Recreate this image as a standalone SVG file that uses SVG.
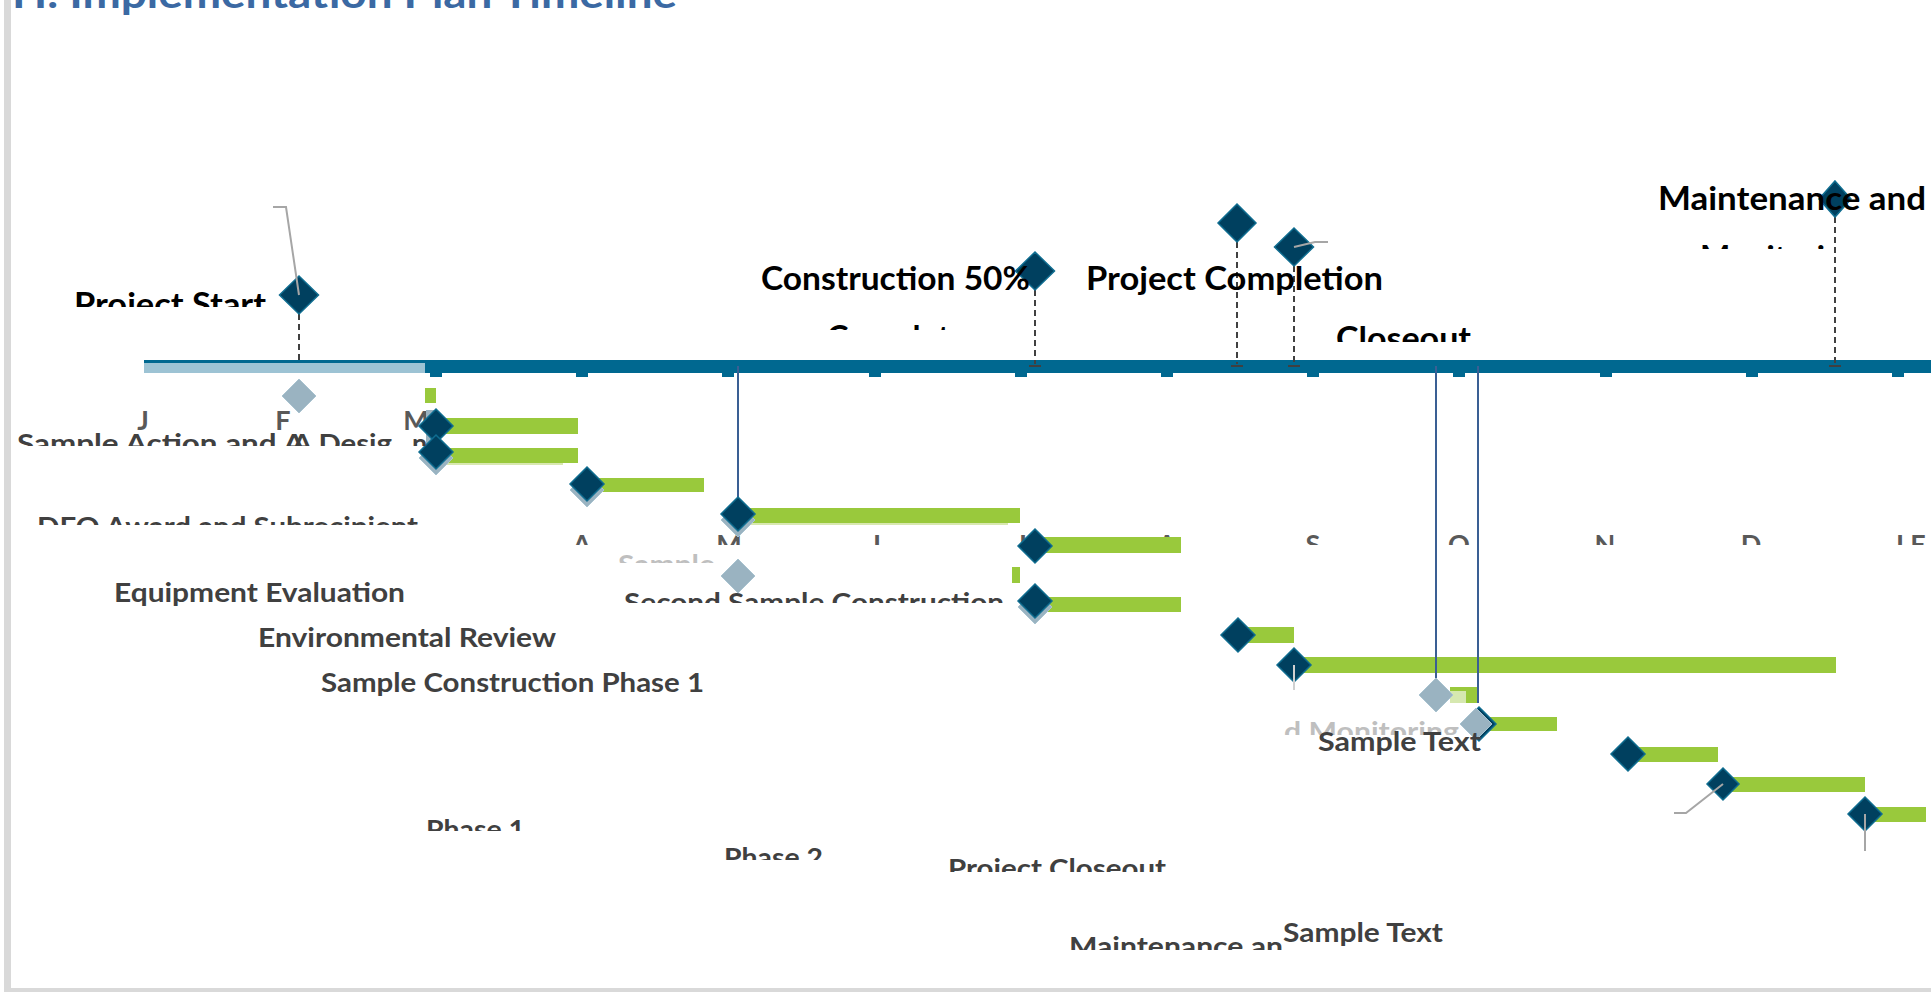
<svg xmlns="http://www.w3.org/2000/svg" width="1931" height="992" viewBox="0 0 1931 992">
<style>
text{font-family:Lato,"Open Sans","Liberation Sans",sans-serif;font-weight:bold}
.title{font-size:40px;fill:#3b69a3}
.ms{font-size:32px;fill:#000}
.lbl{font-size:27px;fill:#404040}
.ghost{font-size:27px;fill:#bfbfbf}
.mon{font-size:27px;fill:#595959}
.dk{fill:#00405f;stroke:#0f6d90;stroke-width:1.5}
.lt{fill:#9ab3c1;stroke:#a9c3d0;stroke-width:1}
.gr{fill:#99c93c}
.tick{fill:#006890}
.dash{stroke:#404040;stroke-width:2;stroke-dasharray:6 4;fill:none}
.foot{stroke:#404040;stroke-width:2;fill:none}
.vl{stroke:#3a5f94;stroke-width:2;fill:none}
.ld{stroke:#a6a6a6;stroke-width:2;fill:none}
</style>
<defs>
<clipPath id="cTop" clipPathUnits="userSpaceOnUse"><rect x="0" y="0" width="1931" height="992"/></clipPath>
<clipPath id="c307"><rect x="0" y="0" width="1931" height="307"/></clipPath>
<clipPath id="c330"><rect x="0" y="300" width="1931" height="30"/></clipPath>
<clipPath id="c342"><rect x="0" y="300" width="1931" height="42"/></clipPath>
<clipPath id="c249"><rect x="0" y="220" width="1931" height="29"/></clipPath>
<clipPath id="c446"><rect x="0" y="420" width="1931" height="26"/></clipPath>
<clipPath id="c525"><rect x="0" y="500" width="1931" height="25"/></clipPath>
<clipPath id="c545"><rect x="0" y="520" width="1931" height="25"/></clipPath>
<clipPath id="c563"><rect x="0" y="540" width="1931" height="23"/></clipPath>
<clipPath id="c603"><rect x="0" y="580" width="1931" height="23"/></clipPath>
<clipPath id="c735"><rect x="0" y="710" width="1931" height="25"/></clipPath>
<clipPath id="c831"><rect x="0" y="805" width="1931" height="26"/></clipPath>
<clipPath id="c860"><rect x="0" y="835" width="1931" height="25"/></clipPath>
<clipPath id="c872"><rect x="0" y="845" width="1931" height="27"/></clipPath>
<clipPath id="c950"><rect x="0" y="925" width="1931" height="25"/></clipPath>
</defs>
<rect x="0" y="0" width="1931" height="992" fill="#fff"/>
<rect x="4" y="0" width="7" height="992" fill="#d9d9d9"/>
<rect x="4" y="988" width="1927" height="4" fill="#d9d9d9"/>

<text class="title" x="12" y="8" textLength="665" lengthAdjust="spacingAndGlyphs">H. Implementation Plan Timeline</text>

<!-- timeline axis -->
<g id="axis">
<rect x="144" y="360" width="1787" height="13" fill="#006890"/>
<rect x="144" y="363" width="281" height="10" fill="#9dc3d4"/>
<rect class="tick" x="430" y="373" width="12" height="4"/>
<rect class="tick" x="576" y="373" width="12" height="4"/>
<rect class="tick" x="722" y="373" width="12" height="4"/>
<rect class="tick" x="869" y="373" width="12" height="4"/>
<rect class="tick" x="1015" y="373" width="12" height="4"/>
<rect class="tick" x="1161" y="373" width="12" height="4"/>
<rect class="tick" x="1307" y="373" width="12" height="4"/>
<rect class="tick" x="1453" y="373" width="12" height="4"/>
<rect class="tick" x="1600" y="373" width="12" height="4"/>
<rect class="tick" x="1746" y="373" width="12" height="4"/>
<rect class="tick" x="1892" y="373" width="12" height="4"/>
</g>

<g id="months">
<text class="mon" x="143" y="430" text-anchor="middle">J</text>
<text class="mon" x="283" y="430" text-anchor="middle">F</text>
<text class="mon" x="416" y="430" text-anchor="middle">M</text>
<g clip-path="url(#c545)">
<text class="mon" x="582" y="554" text-anchor="middle">A</text>
<text class="mon" x="729" y="554" text-anchor="middle">M</text>
<text class="mon" x="875" y="554" text-anchor="middle">J</text>
<text class="mon" x="1021" y="554" text-anchor="middle">J</text>
<text class="mon" x="1167" y="554" text-anchor="middle">A</text>
<text class="mon" x="1313" y="554" text-anchor="middle">S</text>
<text class="mon" x="1459" y="554" text-anchor="middle">O</text>
<text class="mon" x="1605" y="554" text-anchor="middle">N</text>
<text class="mon" x="1751" y="554" text-anchor="middle">D</text>
<text class="mon" x="1898" y="554" text-anchor="middle">J</text>
<text class="mon" x="1918" y="554" text-anchor="middle">F</text>
</g>
</g>

<!-- bars -->
<g id="bars">
<rect class="gr" x="425" y="388" width="11" height="15"/>
<rect class="gr" x="437" y="418" width="141" height="16"/>
<rect class="gr" x="442" y="448" width="136" height="15"/>
<rect x="442" y="463" width="121" height="2" fill="#d8e8b0"/>
<rect class="gr" x="594" y="478" width="110" height="14"/>
<rect class="gr" x="748" y="508" width="272" height="15"/>
<rect x="748" y="523" width="260" height="2" fill="#d8e8b0"/>
<rect class="gr" x="1038" y="537" width="143" height="16"/>
<rect class="gr" x="1012" y="567" width="8" height="16"/>
<rect class="gr" x="1038" y="597" width="143" height="15"/>
<rect class="gr" x="1239" y="627" width="55" height="16"/>
<rect class="gr" x="1294" y="657" width="542" height="16"/>
<rect class="gr" x="1450" y="687" width="27" height="16"/>
<rect x="1450" y="691" width="16" height="12" fill="#d6e8b0"/>
<rect class="gr" x="1487" y="717" width="70" height="14"/>
<rect class="gr" x="1638" y="747" width="80" height="15"/>
<rect class="gr" x="1727" y="777" width="138" height="15"/>
<rect class="gr" x="1873" y="807" width="53" height="15"/>
</g>

<!-- connectors -->
<g id="connectors">
<path class="dash" d="M299 314V364"/>
<path class="dash" d="M1035 290V364"/>
<path class="dash" d="M1237 242V364"/>
<path class="dash" d="M1294 266V364"/>
<path class="dash" d="M1835 217V364"/>
<path class="foot" d="M1029 366H1041M1231 366H1243M1288 366H1300M1829 366H1841"/>
<path class="vl" d="M738 366V500"/>
<path class="vl" d="M1436 366V678"/>
<path class="vl" d="M1478 366V703"/>
</g>

<!-- milestone nodes -->
<g id="ms-project-start">
<polygon class="dk" points="299,276 318.5,295 299,314 279.5,295"/>
<text class="ms" x="74" y="316" clip-path="url(#c307)" textLength="192" lengthAdjust="spacingAndGlyphs">Project Start</text>
</g>
<g id="ms-construction-50">
<polygon class="dk" points="1035,252 1054.5,271 1035,290 1015.5,271"/>
<text class="ms" x="761" y="290" textLength="269" lengthAdjust="spacingAndGlyphs">Construction 50%</text>
<text class="ms" x="827" y="349" clip-path="url(#c330)" textLength="140" lengthAdjust="spacingAndGlyphs">Complete</text>
</g>
<g id="ms-project-completion">
<polygon class="dk" points="1237,204 1256,223 1237,242 1218,223"/>
<polygon class="dk" points="1294,228 1313.5,247 1294,266 1274.5,247"/>
<text class="ms" x="1086" y="290" textLength="297" lengthAdjust="spacingAndGlyphs">Project Completion</text>
<text class="ms" x="1336" y="350" clip-path="url(#c342)" textLength="135" lengthAdjust="spacingAndGlyphs">Closeout</text>
</g>
<g id="ms-maintenance">
<polygon class="dk" points="1835,181 1851,199 1835,217 1819,199"/>
<text class="ms" x="1658" y="210" textLength="268" lengthAdjust="spacingAndGlyphs">Maintenance and</text>
<text class="ms" x="1700" y="269" clip-path="url(#c249)" textLength="160" lengthAdjust="spacingAndGlyphs">Monitoring</text>
</g>

<!-- task nodes -->
<g id="task-start-marker"><polygon class="lt" points="299,379 316,396 299,413 282,396"/></g>
<g id="task-1">
<rect x="426" y="410" width="11" height="40" fill="#9ab3c1"/>
<polygon class="dk" points="436,409 453,426 436,443 419,426" />
</g>
<g id="task-2">
<polygon class="lt" points="436,441 453,458 436,475 419,458"/>
<polygon class="dk" points="436,435 453,452 436,469 419,452"/>
</g>
<g id="task-3">
<polygon class="lt" points="587,473 604,490 587,507 570,490"/>
<polygon class="dk" points="587,467 604,484 587,501 570,484"/>
</g>
<g id="task-4">
<polygon class="lt" points="738,503 755,520 738,537 721,520"/>
<polygon class="dk" points="738,497 755,514 738,531 721,514"/>
</g>
<g id="task-4b"><polygon class="lt" points="738,559 755,576 738,593 721,576"/></g>
<g id="task-5"><polygon class="dk" points="1035,529 1052,546 1035,563 1018,546"/></g>
<g id="task-6">
<polygon class="lt" points="1035,590 1052,607 1035,624 1018,607"/>
<polygon class="dk" points="1035,584 1052,601 1035,618 1018,601"/>
</g>
<g id="task-7"><polygon class="dk" points="1238,618 1255,635 1238,652 1221,635"/></g>
<g id="task-8"><polygon class="dk" points="1294,648 1311,665 1294,682 1277,665"/></g>
<g id="task-9"><polygon class="lt" points="1436,678 1453,695 1436,712 1419,695"/></g>
<g id="task-10">
<polygon class="dk" points="1479,707 1496,724 1479,741 1462,724"/>
<polygon class="lt" points="1476,708 1492,724 1476,740 1460,724"/>
</g>
<g id="task-11"><polygon class="dk" points="1628,737 1645,754 1628,771 1611,754"/></g>
<g id="task-12"><polygon class="dk" points="1723,768 1739,784 1723,800 1707,784"/></g>
<g id="task-13"><polygon class="dk" points="1865,797 1882,814 1865,831 1848,814"/></g>

<!-- leader lines -->
<g id="leaders">
<path class="ld" d="M273 207H286L299 295"/>
<path class="ld" d="M1294 247L1315 242H1328"/>
<path d="M1294 665V690" stroke="#d0d0d0" stroke-width="2" fill="none"/>
<path class="ld" d="M1723 784L1686 813H1674"/>
<path class="ld" d="M1865 814V851"/>
</g>

<!-- task labels -->
<g id="labels">
<g clip-path="url(#c446)">
<text class="lbl" x="17" y="453" textLength="288" lengthAdjust="spacingAndGlyphs">Sample Action and A</text>
<text class="lbl" x="292" y="453" textLength="100" lengthAdjust="spacingAndGlyphs">A Desig</text>
<text class="lbl" x="412" y="453">n</text>
</g>
<text class="lbl" x="37" y="536" clip-path="url(#c525)" textLength="381" lengthAdjust="spacingAndGlyphs">DEO Award and Subrecipient</text>
<text class="ghost" x="618" y="574" clip-path="url(#c563)" textLength="97" lengthAdjust="spacingAndGlyphs">Sample</text>
<text class="lbl" x="624" y="612" clip-path="url(#c603)" textLength="380" lengthAdjust="spacingAndGlyphs">Second Sample Construction</text>
<text class="lbl" x="114" y="602" textLength="291" lengthAdjust="spacingAndGlyphs">Equipment Evaluation</text>
<text class="lbl" x="258" y="647" textLength="298" lengthAdjust="spacingAndGlyphs">Environmental Review</text>
<text class="lbl" x="321" y="692" textLength="383" lengthAdjust="spacingAndGlyphs">Sample Construction Phase 1</text>
<text class="ghost" x="1284" y="741" clip-path="url(#c735)" textLength="175" lengthAdjust="spacingAndGlyphs">d Monitoring</text>
<text class="lbl" x="1318" y="751" textLength="163" lengthAdjust="spacingAndGlyphs">Sample Text</text>
<text class="lbl" x="426" y="839" clip-path="url(#c831)" textLength="99" lengthAdjust="spacingAndGlyphs">Phase 1</text>
<text class="lbl" x="724" y="867" clip-path="url(#c860)" textLength="99" lengthAdjust="spacingAndGlyphs">Phase 2</text>
<text class="lbl" x="948" y="878" clip-path="url(#c872)" textLength="218" lengthAdjust="spacingAndGlyphs">Project Closeout</text>
<text class="lbl" x="1069" y="956" clip-path="url(#c950)" textLength="214" lengthAdjust="spacingAndGlyphs">Maintenance an</text>
<text class="lbl" x="1283" y="942" textLength="160" lengthAdjust="spacingAndGlyphs">Sample Text</text>
</g>
</svg>
